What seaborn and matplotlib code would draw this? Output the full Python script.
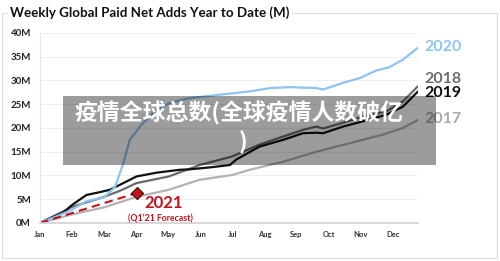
import numpy as np
import pandas as pd
import matplotlib
matplotlib.use("Agg")
import matplotlib.pyplot as plt
from matplotlib.patches import Rectangle
import seaborn as sns

# --- data (x in months from Jan 1, values in millions) ---
months = ["Jan", "Feb", "Mar", "Apr", "May", "Jun", "Jul", "Aug", "Sep", "Oct", "Nov", "Dec"]
yticks = [0, 5, 10, 15, 20, 25, 30, 35, 40]

x_2020 = [0, 0.73, 1.0, 1.45, 2.0, 2.34, 2.6, 2.8, 3.12, 3.52, 4.05, 4.67, 5.6, 6.54, 7.17, 7.79,
          8.62, 8.83, 9.45, 9.97, 10.49, 10.9, 11.32, 11.79]
v_2020 = [0, 2.0, 2.8, 4.6, 5.4, 7.6, 12.6, 17.5, 20.3, 23.2, 25.3, 26.3, 27.0, 27.7, 28.4, 28.6,
          28.4, 28.1, 29.5, 30.5, 32.1, 32.8, 34.4, 36.9]

x_2019 = [0, 0.73, 1.0, 1.45, 1.87, 2.18, 2.6, 3.01, 3.64, 4.36, 4.67, 5.29, 5.92, 6.13, 6.85,
          7.58, 8.2, 8.62, 8.83, 9.45, 10.07, 10.8, 11.32, 11.79]
v_2019 = [0, 2.2, 3.8, 5.9, 6.5, 7.0, 8.4, 9.8, 10.6, 11.2, 11.3, 11.7, 12.2, 13.4, 16.1,
          17.5, 18.9, 19.0, 18.9, 20.3, 21.4, 22.8, 24.5, 27.7]

x_2018 = [0, 1.0, 2.0, 2.5, 3.01, 4.02, 4.98, 5.99, 6.85, 7.58, 8.2, 8.62, 8.83, 9.45, 10.07,
          10.8, 11.32, 11.79]
v_2018 = [0, 3.4, 5.5, 6.8, 8.4, 9.8, 12.2, 14.0, 16.5, 18.2, 19.6, 20.3, 19.9, 21.1, 22.4,
          23.5, 25.6, 28.8]

x_2017 = [0, 1.0, 2.0, 3.01, 4.02, 4.98, 5.99, 6.54, 7.58, 8.62, 9.66, 10.69, 11.32, 11.79]
v_2017 = [0, 1.8, 3.3, 5.5, 7.0, 9.1, 10.1, 11.2, 12.9, 15.0, 16.8, 18.6, 20.0, 21.7]

x_2021 = [0, 3.01]
v_2021 = [0, 6.3]

label_y = {"2020": 37.0, "2018": 30.4, "2019": 27.4, "2017": 21.9}

colors = {"2020": "#8ec3f3", "2018": "#6b6b6b", "2019": "#111111", "2017": "#b3b3b3"}
label_colors = {"2020": "#8ec3f3", "2018": "#6e6e6e", "2019": "#111111", "2017": "#aaaaaa"}
red = "#c3121c"

frames = []
for year, xs, vs in [("2017", x_2017, v_2017), ("2018", x_2018, v_2018),
                     ("2019", x_2019, v_2019), ("2020", x_2020, v_2020)]:
    frames.append(pd.DataFrame({"month": xs, "value": vs, "year": year}))
df = pd.concat(frames, ignore_index=True)
df_2021 = pd.DataFrame({"month": x_2021, "value": v_2021})

sns.set_style("white")
plt.rcParams["font.family"] = ["Lato", "DejaVu Sans"]

fig = plt.figure(figsize=(5, 2.61), dpi=100)
ax = fig.add_axes([0.08, 0.1456, 0.756, 0.728])

for y in yticks[1:]:
    ax.axhline(y, color="#efefef", lw=0.8, zorder=0)

sns.lineplot(data=df, x="month", y="value", hue="year", palette=colors, lw=1.6,
             legend=False, ax=ax, sort=False)
sns.lineplot(data=df_2021, x="month", y="value", color=red, lw=1.5, ax=ax,
             linestyle=(0, (4, 2.5)))
ax.scatter(x_2021[-1:], v_2021[-1:], marker="D", s=38, color=red, edgecolor="#3b0a0a",
           linewidth=0.8, zorder=5)

ax.set_xlim(0, 11.79)
ax.set_ylim(0, 40)
ax.set_xticks(range(12))
ax.set_xticklabels(months, fontsize=5.5, fontweight="bold", color="#333333")
ax.set_yticks(yticks)
ax.set_yticklabels([f"{v}M" for v in yticks], fontsize=7, fontweight="bold", color="#222222")
ax.tick_params(axis="both", length=0)
ax.tick_params(axis="y", pad=6.5)
ax.tick_params(axis="x", pad=5.5)
ax.set_xlabel("")
ax.set_ylabel("")
for s in ["top", "right"]:
    ax.spines[s].set_visible(False)
ax.spines["left"].set_color("#e6e6e6")
ax.spines["left"].set_linewidth(0.8)
ax.spines["bottom"].set_color("#d0d0d0")
ax.spines["bottom"].set_linewidth(1.2)

for year, yv in label_y.items():
    ax.text(12.0, yv, year, color=label_colors[year], fontsize=11.5, fontweight="bold",
            va="center", ha="left", clip_on=False)

ax.text(3.27, 4.2, "2021", color=red, fontsize=12, fontweight="bold", va="center", ha="left")
ax.text(3.77, 0.95, "(Q1\u201921 Forecast)", color=red, fontsize=6.3, fontweight="bold",
        va="center", ha="center")

# outer frame + title
fig.patches.append(Rectangle((0.004, 0.0115), 0.99, 0.9385, transform=fig.transFigure,
                             fill=False, edgecolor="#dcdcdc", lw=0.8))
fig.text(0.02, 0.95, "Weekly Global Paid Net Adds Year to Date (M)", fontsize=9.6,
         fontweight="bold", color="#111111", va="center", ha="left",
         bbox=dict(facecolor="white", edgecolor="none", pad=1.5))

# overlay caption banner
fig.patches.append(Rectangle((0.126, 0.368), 0.746, 0.264, transform=fig.transFigure,
                             facecolor="black", alpha=0.39, edgecolor="none", zorder=10))
cjk = ["Noto Sans CJK SC", "DejaVu Sans"]
fig.text(0.477, 0.567, "疫情全球总数(全球疫情人数破亿", family=cjk, fontsize=16.5,
         fontweight="heavy", color="white", ha="center", va="center", zorder=11)
fig.text(0.487, 0.452, ")", family=cjk, fontsize=16.5, fontweight="heavy", color="white",
         ha="center", va="center", zorder=11)

fig.savefig("out.png", dpi=100)
